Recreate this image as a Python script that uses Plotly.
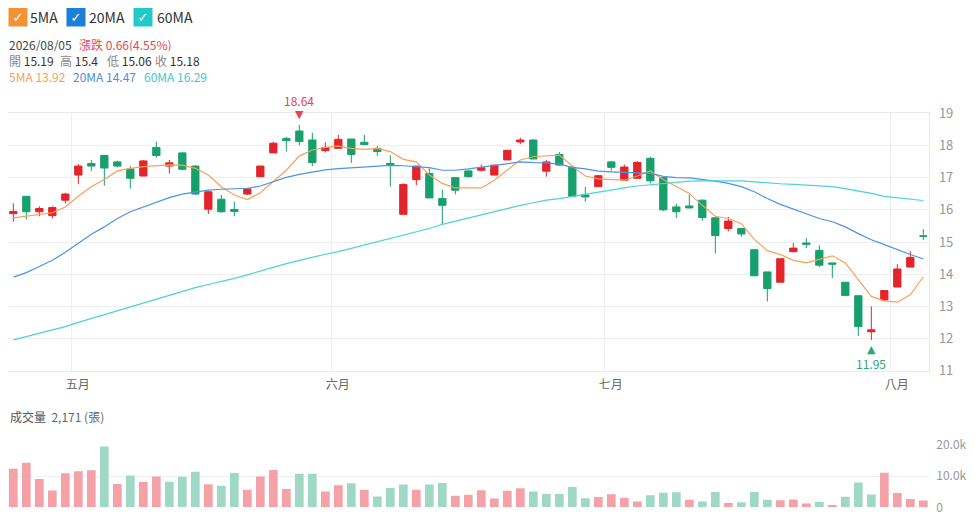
import plotly.graph_objects as go

# K線資料（讀自圖上）
open_ = [15.88, 16.42, 15.94, 15.82, 16.30, 17.08, 17.44, 17.69, 17.49, 17.27,
         17.05, 17.94, 17.36, 17.77, 17.36, 16.02, 16.33, 16.01, 16.49, 17.03,
         17.77, 18.22, 18.45, 18.17, 17.84, 17.91, 18.20, 18.10, 17.91, 17.44,
         15.86, 16.94, 17.13, 16.35, 17.00, 17.21, 17.23, 17.08, 17.55, 18.11,
         18.17, 17.20, 17.72, 17.32, 16.46, 16.72, 17.49, 16.92, 16.98, 17.60,
         17.00, 16.09, 16.12, 16.30, 15.75, 15.42, 15.42, 14.76, 14.07, 13.75,
         14.70, 14.97, 14.74, 14.35, 13.75, 13.33, 12.21, 13.20, 13.60, 14.22,
         15.19]
high = [16.20, 16.42, 16.11, 16.11, 16.53, 17.42, 17.55, 17.70, 17.53, 17.36,
        17.55, 18.12, 17.55, 17.80, 17.39, 16.58, 16.46, 16.25, 16.68, 17.36,
        18.12, 18.27, 18.64, 18.40, 18.10, 18.33, 18.20, 18.33, 17.99, 17.70,
        16.82, 17.36, 17.29, 16.63, 17.00, 17.23, 17.41, 17.39, 17.85, 18.24,
        18.19, 17.55, 17.80, 17.36, 16.72, 17.08, 17.51, 17.41, 17.52, 17.65,
        17.05, 16.19, 16.48, 16.32, 15.77, 15.78, 15.44, 14.76, 14.07, 14.48,
        14.97, 15.12, 14.90, 14.35, 13.75, 13.33, 13.00, 13.49, 14.31, 14.71,
        15.40]
low = [15.63, 15.70, 15.80, 15.73, 16.20, 16.80, 17.20, 16.75, 17.32, 16.66,
       17.05, 17.62, 17.13, 17.24, 16.47, 15.87, 15.91, 15.80, 16.46, 17.03,
       17.77, 17.81, 18.01, 17.36, 17.78, 17.91, 17.46, 18.01, 17.68, 16.72,
       15.86, 16.77, 16.37, 15.55, 16.48, 17.00, 17.18, 17.08, 17.55, 18.04,
       17.58, 17.03, 17.36, 16.42, 16.25, 16.72, 17.22, 16.92, 16.98, 16.82,
       15.96, 15.75, 16.04, 15.66, 14.64, 15.33, 15.16, 13.95, 13.15, 13.75,
       14.68, 14.81, 14.22, 13.88, 13.34, 12.08, 11.95, 13.15, 13.60, 14.22,
       15.06]
close = [15.95, 15.94, 16.04, 16.07, 16.49, 17.36, 17.36, 17.30, 17.36, 16.98,
         17.52, 17.69, 17.46, 17.26, 16.49, 16.56, 15.94, 15.95, 16.65, 17.36,
         18.07, 18.15, 18.12, 17.47, 17.94, 18.19, 17.72, 18.03, 17.81, 17.38,
         16.79, 17.36, 16.37, 16.14, 16.61, 17.03, 17.31, 17.39, 17.85, 18.17,
         17.58, 17.49, 17.39, 16.42, 16.40, 17.06, 17.32, 17.33, 17.47, 16.90,
         16.00, 15.94, 16.06, 15.76, 15.20, 15.65, 15.25, 13.95, 13.55, 14.48,
         14.81, 14.93, 14.28, 14.31, 13.34, 12.37, 12.27, 13.49, 14.16, 14.52,
         15.18]

# 均線（讀自圖上）
ma5 = [15.75, 15.81, 15.86, 15.91, 16.09, 16.42, 16.72, 16.94, 17.21, 17.29,
       17.34, 17.38, 17.40, 17.39, 17.29, 17.08, 16.72, 16.46, 16.32, 16.53,
       16.87, 17.23, 17.67, 17.86, 17.94, 17.98, 17.91, 17.88, 17.91, 17.81,
       17.57, 17.49, 17.08, 16.82, 16.68, 16.68, 16.68, 16.92, 17.23, 17.55,
       17.65, 17.68, 17.70, 17.36, 17.05, 16.96, 16.94, 16.92, 17.05, 17.21,
       16.94, 16.72, 16.51, 16.14, 15.80, 15.73, 15.57, 15.08, 14.73, 14.61,
       14.43, 14.35, 14.45, 14.57, 14.35, 13.83, 13.31, 13.17, 13.13, 13.36,
       13.92]
ma20 = [13.91, 14.05, 14.24, 14.43, 14.68, 14.95, 15.24, 15.47, 15.73, 15.94,
        16.09, 16.25, 16.38, 16.49, 16.56, 16.61, 16.64, 16.66, 16.67, 16.74,
        16.87, 17.01, 17.10, 17.18, 17.24, 17.28, 17.31, 17.34, 17.36, 17.38,
        17.37, 17.34, 17.31, 17.23, 17.23, 17.27, 17.32, 17.39, 17.44, 17.49,
        17.47, 17.46, 17.42, 17.32, 17.27, 17.20, 17.18, 17.16, 17.15, 17.13,
        17.04, 17.00, 16.99, 16.95, 16.89, 16.82, 16.72, 16.56, 16.35, 16.17,
        16.02, 15.89, 15.73, 15.63, 15.47, 15.26, 15.07, 14.92, 14.76, 14.61,
        14.47]
ma60 = [11.96, 12.06, 12.17, 12.27, 12.37, 12.50, 12.62, 12.74, 12.85, 12.98,
        13.10, 13.23, 13.35, 13.46, 13.58, 13.68, 13.77, 13.87, 13.98, 14.10,
        14.21, 14.33, 14.43, 14.53, 14.62, 14.70, 14.80, 14.91, 15.01, 15.10,
        15.20, 15.30, 15.42, 15.55, 15.65, 15.73, 15.83, 15.94, 16.04, 16.14,
        16.22, 16.30, 16.35, 16.42, 16.49, 16.56, 16.61, 16.68, 16.74, 16.78,
        16.82, 16.86, 16.89, 16.90, 16.90, 16.91, 16.90, 16.87, 16.83, 16.81,
        16.79, 16.77, 16.75, 16.72, 16.66, 16.59, 16.51, 16.42, 16.37, 16.33,
        16.29]

# 成交量（張），vol_up: 1 = 紅, 0 = 綠
volume = [12400, 14300, 9100, 5400, 10900, 11600, 11900, 19500, 7500, 10200,
          8100, 9900, 8200, 9800, 11400, 7400, 6900, 11000, 5600, 9900,
          12000, 5900, 10800, 10800, 5100, 7100, 7700, 5600, 3500, 6200,
          7300, 5600, 7300, 7800, 3700, 4000, 5500, 2800, 5300, 6100,
          5100, 4300, 4300, 6500, 2900, 3300, 4200, 3100, 1900, 3900,
          4700, 4800, 2400, 1900, 4900, 1400, 1600, 4900, 2400, 2300,
          2500, 1200, 1700, 750, 3400, 8000, 4100, 11100, 4600, 2700,
          2171]
vol_up = [1, 1, 1, 1, 1, 1, 1, 0, 1, 0,
          1, 1, 0, 0, 0, 1, 0, 0, 1, 1,
          1, 1, 0, 0, 1, 1, 0, 1, 0, 0,
          0, 1, 0, 0, 1, 1, 1, 1, 1, 1,
          0, 0, 0, 0, 0, 1, 1, 1, 1, 0,
          0, 0, 1, 0, 0, 1, 0, 0, 0, 1,
          1, 1, 0, 1, 0, 0, 0, 1, 1, 1,
          1]

month_ticks = [4.5, 24.5, 45.5, 67.5]
month_labels = ["五月", "六月", "七月", "八月"]
price_ticks = [11, 12, 13, 14, 15, 16, 17, 18, 19]
vol_ticks = [0, 10000, 20000]
vol_tick_labels = ["0", "10.0k", "20.0k"]

RED = "#e3242b"
GREEN = "#17a06c"
C5, C20, C60 = "#f5a15c", "#4c94e6", "#4ad3d6"
GRID = "#eceef5"
FONT = "Noto Sans CJK TC"

# 頁面 body 有 8px 邊距，圖面縮小並把座標往回移
OFF = 8
W, H = 975 - OFF, 527 - OFF
def px(x):
    return max(0.0, (x - OFF) / W)
def py(y):
    return 1 - (y - OFF) / H

x_idx = list(range(len(close)))

fig = go.Figure()
fig.add_trace(go.Candlestick(
    x=x_idx, open=open_, high=high, low=low, close=close,
    increasing=dict(line=dict(color=RED, width=1), fillcolor=RED),
    decreasing=dict(line=dict(color=GREEN, width=1), fillcolor=GREEN),
    xaxis="x", yaxis="y", name="K"))
for vals, col, nm in [(ma5, C5, "5MA"), (ma20, C20, "20MA"), (ma60, C60, "60MA")]:
    fig.add_trace(go.Scatter(x=x_idx, y=vals, mode="lines", name=nm,
                             line=dict(color=col, width=1.2), xaxis="x", yaxis="y"))
fig.add_trace(go.Bar(
    x=x_idx, y=volume, name="成交量",
    marker=dict(color=["#f4a2a7" if u else "#9fd9c5" for u in vol_up], line=dict(width=0)),
    xaxis="x2", yaxis="y2"))

fig.update_layout(
    width=W, height=H,
    margin=dict(l=0, r=0, t=0, b=0),
    paper_bgcolor="white", plot_bgcolor="white",
    showlegend=False,
    font=dict(family=FONT, size=12, color="#999"),
    boxgap=0.2, boxgroupgap=0.3, bargap=0.33,
    xaxis=dict(domain=[px(8), px(929.3)], range=[-0.41, 70.46], anchor="y",
               tickvals=month_ticks, ticktext=month_labels, ticklabelshift=6,
               tickfont=dict(color="#666", size=12), ticks="", ticklabelstandoff=3,
               showgrid=True, gridcolor=GRID, zeroline=False,
               showline=True, linecolor="#e6e9f1", mirror=True,
               rangeslider=dict(visible=False), automargin=False),
    yaxis=dict(domain=[py(370.7), py(113.3)], range=[11, 19], side="right",
               tickvals=price_ticks, ticks="", ticklabelstandoff=6,
               tickfont=dict(color="#999", size=13),
               showgrid=True, gridcolor=GRID, zeroline=False,
               showline=True, linecolor="#e6e9f1", mirror=True, automargin=False),
    xaxis2=dict(domain=[px(8), px(929.3)], matches="x", anchor="y2",
                showticklabels=False, showgrid=False, zeroline=False, automargin=False),
    yaxis2=dict(domain=[py(507.3), py(445)], range=[0, 20000], side="right",
                tickvals=vol_ticks, ticktext=vol_tick_labels, ticks="", ticklabelstandoff=6,
                tickfont=dict(color="#999", size=12),
                showgrid=True, gridcolor=GRID, zeroline=False, automargin=False),
)

ann = []
# 圖例勾選框
for cx, col, tx, lbl in [(17.5, "#f39233", 29.3, "5MA"), (75.5, "#1c7fd8", 88.3, "20MA"),
                         (142.8, "#22c9cb", 156, "60MA")]:
    ann.append(dict(x=px(cx), y=py(16.5), xref="paper", yref="paper", text="<b>✓</b>",
                    xanchor="center", yanchor="middle",
                    showarrow=False, bgcolor=col, width=18, height=18, borderpad=0,
                    font=dict(color="white", size=13, family="DejaVu Sans")))
    ann.append(dict(x=px(tx), y=py(16.5), xref="paper", yref="paper", text=lbl,
                    xanchor="left", yanchor="middle", showarrow=False, borderpad=0,
                    font=dict(color="#333", size=14)))

# 資訊列
info = [
    (8, 44, "2026/08/05", "#444"),
    (78.3, 44, "漲跌 0.66(4.55%)", "#e8474f"),
    (8, 76, "5MA 13.92", C5),
    (71.7, 76, "20MA 14.47", "#4a8ee6"),
    (143.3, 76, "60MA 16.29", "#3cc9cf"),
]
for x0, y0, t, c in info:
    ann.append(dict(x=px(x0), y=py(y0), xref="paper", yref="paper", text=t,
                    xanchor="left", yanchor="middle", borderpad=0, height=14,
                    showarrow=False, font=dict(color=c, size=12)))
for x0, lbl, val in [(8, "開", "15.19"), (59.3, "高", "15.4"), (106, "低", "15.06"), (154, "收", "15.18")]:
    ann.append(dict(x=px(x0), y=py(60), xref="paper", yref="paper",
                    xanchor="left", yanchor="middle", borderpad=0, height=14,
                    text=f"<span style='color:#888'>{lbl}</span> <span style='color:#333'>{val}</span>",
                    showarrow=False, font=dict(size=12)))
ann.append(dict(x=px(8), y=py(416), xref="paper", yref="paper",
                xanchor="left", yanchor="middle", showarrow=False,
                text="<span style='color:#555'>成交量</span>  <span style='color:#666'>2,171 (張)</span>",
                font=dict(size=12)))

# 最高 / 最低標記
i_hi = high.index(max(high))
i_lo = low.index(min(low))
ann += [
    dict(x=i_hi, y=high[i_hi], xref="x", yref="y", text="▼", showarrow=False, yshift=10,
         xanchor="center", yanchor="middle", borderpad=0,
         font=dict(color="#e8434c", size=11, family="DejaVu Sans")),
    dict(x=i_hi, y=high[i_hi], xref="x", yref="y", text=f"{high[i_hi]:.2f}", showarrow=False,
         xanchor="center", yanchor="middle", borderpad=0,
         yshift=24, font=dict(color="#e8434c", size=12)),
    dict(x=i_lo, y=low[i_lo], xref="x", yref="y", text="▲", showarrow=False, yshift=-9,
         xanchor="center", yanchor="middle", borderpad=0,
         font=dict(color="#2aa876", size=11, family="DejaVu Sans")),
    dict(x=i_lo, y=low[i_lo], xref="x", yref="y", text=f"{low[i_lo]:.2f}", showarrow=False,
         xanchor="center", yanchor="middle", borderpad=0,
         yshift=-23, font=dict(color="#2aa876", size=12)),
]
fig.update_layout(annotations=ann)

fig.write_html("out.html")
